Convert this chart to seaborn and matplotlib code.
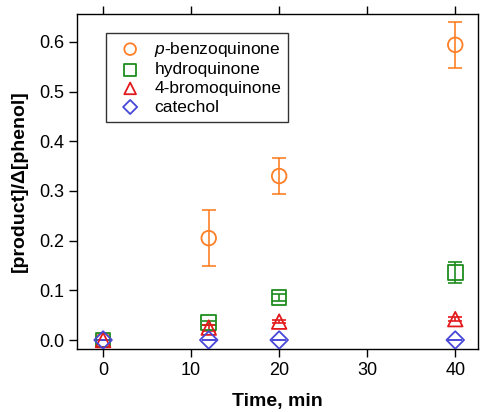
import numpy as np
import pandas as pd
import matplotlib
matplotlib.use("Agg")
import matplotlib.pyplot as plt
import seaborn as sns

time = [0, 12, 20, 40]
benzoquinone = [0.0, 0.205, 0.330, 0.594]
benzoquinone_err = [0.0, 0.056, 0.037, 0.046]
hydroquinone = [0.0, 0.035, 0.085, 0.136]
hydroquinone_err = [0.0, 0.004, 0.007, 0.021]
bromoquinone = [0.0, 0.025, 0.037, 0.042]
bromoquinone_err = [0.0, 0.006, 0.003, 0.004]
catechol = [0.0, 0.0, 0.0, 0.0]
catechol_err = [0.0, 0.0, 0.0, 0.0]

series = [
    ("$p$-benzoquinone", benzoquinone, benzoquinone_err, "o", "#ff7f27"),
    ("hydroquinone", hydroquinone, hydroquinone_err, "s", "#1e8c1e"),
    ("4-bromoquinone", bromoquinone, bromoquinone_err, "^", "#e31a1c"),
    ("catechol", catechol, catechol_err, "D", "#4848d8"),
]

sns.set_style("ticks")
plt.rcParams['font.family'] = ['Liberation Sans', 'DejaVu Sans']
plt.rcParams['mathtext.fontset'] = 'custom'
plt.rcParams['mathtext.it'] = 'Liberation Sans:italic'
for k in ['text.color', 'axes.labelcolor', 'xtick.color', 'ytick.color', 'axes.edgecolor']:
    plt.rcParams[k] = 'black'

fig = plt.figure(figsize=(4.82, 4.12), dpi=100)
ax = fig.add_axes([0.16, 0.153, 0.832, 0.813])

for name, vals, err, mk, col in series:
    df = pd.DataFrame({"time": time, "val": vals})
    ax.errorbar(time, vals, yerr=err, fmt="none", ecolor=col, elinewidth=1.2,
                capsize=5, capthick=1.2, zorder=2)
    ms = 110 if mk != "D" else 80
    sns.scatterplot(data=df, x="time", y="val", marker=mk, s=ms, facecolors="none",
                    edgecolor=col, linewidth=1.3, label=name, ax=ax, zorder=3)

ax.set_xlim(-2.95, 42.6)
ax.set_ylim(-0.018, 0.656)
ax.set_xticks([0, 10, 20, 30, 40])
ax.set_yticks([0.0, 0.1, 0.2, 0.3, 0.4, 0.5, 0.6])
ax.set_yticklabels(["0.0", "0.1", "0.2", "0.3", "0.4", "0.5", "0.6"])
ax.tick_params(axis="both", labelsize=13, length=6, width=1, direction="out")
ax.tick_params(axis="x", top=True)
for sp in ax.spines.values():
    sp.set_visible(True)
    sp.set_linewidth(1)
ax.set_xlabel("Time, min", fontsize=14, fontweight="bold", labelpad=10)
ax.set_ylabel("[product]/\u0394[phenol]", fontsize=14, fontweight="bold", labelpad=8)

leg = ax.legend(loc="upper left", bbox_to_anchor=(0.05, 0.97), fontsize=12.5,
                frameon=True, fancybox=False, edgecolor="black", markerscale=0.8,
                handletextpad=0.4, borderpad=0.4, labelspacing=0.2)
leg.get_frame().set_linewidth(1)

fig.savefig("out.png", dpi=100)
